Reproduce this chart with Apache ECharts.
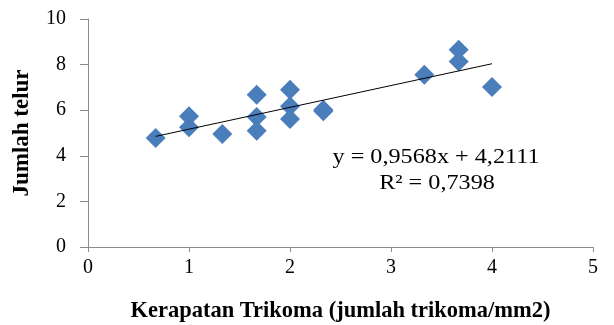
<!DOCTYPE html>
<html>
<head>
<meta charset="utf-8">
<script src="https://cdn.jsdelivr.net/npm/echarts@6/dist/echarts.min.js"></script>
<style>
  html, body { margin: 0; padding: 0; background: #fff; }
  #chart { width: 614px; height: 325px; }
</style>
</head>
<body>
<div id="chart"></div>
<script>
// Trichome density (per mm2) and number of eggs
const density = [0.67, 1.0, 1.0, 1.33, 1.67, 1.67, 1.67, 2.0, 2.0, 2.0, 2.33, 2.33, 3.33, 3.67, 3.67, 4.0];
const eggs    = [4.78, 5.25, 5.73, 4.96, 6.68, 5.70, 5.10, 6.90, 6.17, 5.61, 6.02, 5.95, 7.56, 8.65, 8.14, 7.02];

// Linear trend line fitted to the data
const slope = 0.9568;
const intercept = 4.2111;
const rSquared = '0,7398';
const trendX = [0.67, 4.0];

const xTicks = [0, 1, 2, 3, 4, 5];
const yTicks = [0, 2, 4, 6, 8, 10];

const points = density.map((x, i) => [x, eggs[i]]);
const trend = trendX.map(x => [x, slope * x + intercept]);

const serif = '"Liberation Serif", "Times New Roman", serif';
const axisColor = '#8c8c8c';
const fmt = v => v.toFixed(4).replace('.', ',');

const chart = echarts.init(document.getElementById('chart'));
chart.setOption({
  animation: false,
  backgroundColor: '#fff',
  grid: { left: 88, right: 21, top: 19, bottom: 78, containLabel: false, outerBoundsMode: 'none' },
  xAxis: {
    type: 'value',
    min: xTicks[0], max: xTicks[xTicks.length - 1], interval: 1,
    name: 'Kerapatan Trikoma (jumlah trikoma/mm2)',
    nameLocation: 'middle', nameGap: 53,
    nameTextStyle: { fontFamily: serif, fontWeight: 'bold', fontSize: 22.5, color: '#000' },
    axisLine: { show: true, lineStyle: { color: axisColor, width: 1 } },
    axisTick: { show: true, length: 5, lineStyle: { color: axisColor } },
    axisLabel: { fontFamily: serif, fontSize: 20, color: '#000', margin: 11 },
    splitLine: { show: false }
  },
  yAxis: {
    type: 'value',
    min: yTicks[0], max: yTicks[yTicks.length - 1], interval: 2,
    name: 'Jumlah telur',
    nameLocation: 'middle', nameGap: 54,
    nameTextStyle: { fontFamily: serif, fontWeight: 'bold', fontSize: 23, color: '#000' },
    axisLine: { show: true, lineStyle: { color: axisColor, width: 1 } },
    axisTick: { show: true, length: 8, lineStyle: { color: axisColor } },
    axisLabel: { fontFamily: serif, fontSize: 20, color: '#000', margin: 22 },
    splitLine: { show: false }
  },
  series: [
    {
      type: 'scatter',
      data: points,
      symbol: 'diamond',
      symbolSize: 20,
      itemStyle: { color: '#4a7ebb', opacity: 1 },
      z: 2
    },
    {
      type: 'line',
      data: trend,
      symbol: 'none',
      lineStyle: { color: '#000', width: 1 },
      z: 3
    }
  ],
  graphic: [
    {
      type: 'text',
      x: 436, y: 157, scaleX: 1.1,
      style: {
        text: 'y = ' + fmt(slope) + 'x + ' + fmt(intercept),
        font: '22px ' + serif, fill: '#000', align: 'center', verticalAlign: 'middle'
      }
    },
    {
      type: 'text',
      x: 437, y: 183, scaleX: 1.1,
      style: {
        text: 'R² = ' + rSquared,
        font: '22px ' + serif, fill: '#000', align: 'center', verticalAlign: 'middle'
      }
    }
  ]
});
</script>
</body>
</html>
